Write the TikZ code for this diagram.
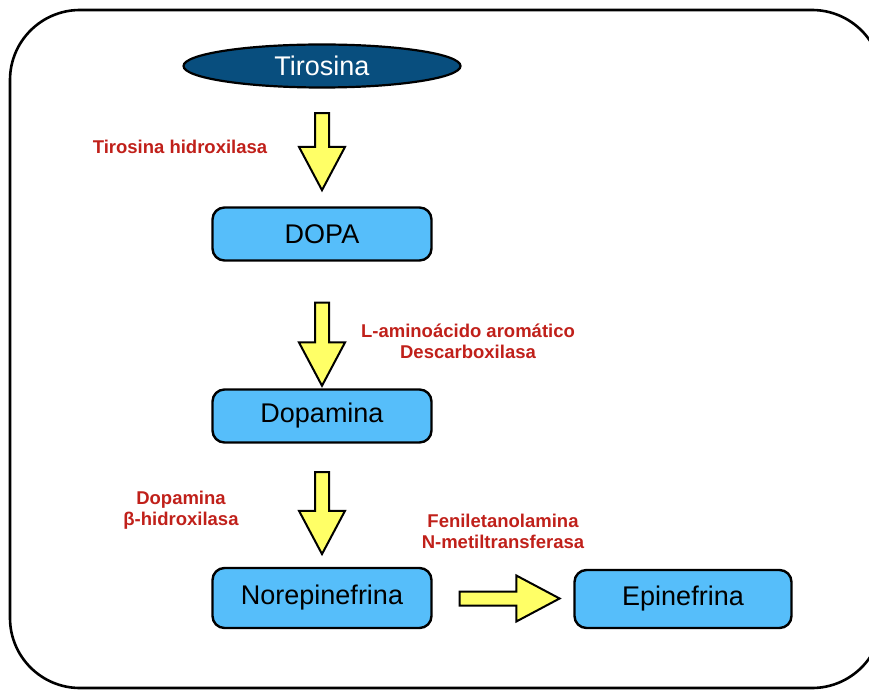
\documentclass[tikz,border=0pt]{standalone}
\usepackage{fontspec}
\setmainfont{Liberation Sans}
\usetikzlibrary{shapes.geometric,shapes.arrows,calc}

\definecolor{boxblue}{RGB}{86,190,250}
\definecolor{darkblue}{RGB}{8,78,126}
\definecolor{arrowyellow}{RGB}{255,255,102}
\definecolor{enzred}{RGB}{192,32,26}

\tikzset{
  compound/.style={draw=black, line width=2.4pt, fill=boxblue, rounded corners=12pt,
    minimum width=219pt, minimum height=53pt, font=\fontsize{27}{30}\selectfont},
  enzyme/.style={text=enzred, font=\fontsize{18.5}{21}\selectfont\bfseries, align=center},
  bigarrow/.style={single arrow, draw=black, line width=2pt, fill=arrowyellow,
    inner sep=6pt, minimum height=80pt, minimum width=46pt,
    single arrow head extend=16pt, single arrow tip angle=56}
}

\begin{document}
\begin{tikzpicture}[x=1pt,y=-1pt]
\useasboundingbox (0,0) rectangle (869,692);
\clip (0,0) rectangle (869,692);
% outer frame
\draw[line width=2.6pt, rounded corners=70pt] (10,10) rectangle (882,688);

% compounds
\node[ellipse, draw=black, line width=2.2pt, fill=darkblue, text=white,
  minimum width=277pt, minimum height=43pt, font=\fontsize{27}{30}\selectfont] (tir) at (322,66) {Tirosina};
\node[compound] (dopa) at (322,234) {DOPA};
\node[compound] (dopam) at (322,416) {Dopamina};
\node[compound, minimum height=60pt] (norepi) at (322,598) {Norepinefrina};
\node[compound, minimum width=217pt, minimum height=58pt] (epi) at (683,599) {Epinefrina};

% block arrows
\node[bigarrow, shape border rotate=270, minimum height=77pt] (a1) at ($(tir.south)!0.48!(dopa.north)$) {};
\node[bigarrow, shape border rotate=270, minimum height=83pt] (a2) at ($(dopa.south)!0.6!(dopam.north)$) {};
\node[bigarrow, shape border rotate=270, minimum height=82pt] (a3) at ($(dopam.south)!0.51!(norepi.north)$) {};
\node[bigarrow, minimum height=100pt, minimum width=42pt] (a4) at ($(norepi.east)!0.5!(epi.west)$) {};

% enzymes
\node[enzyme] (e1) at (180,147) {Tirosina hidroxilasa};
\node[enzyme] (e2) at (468,341) {L-aminoácido aromático\\Descarboxilasa};
\node[enzyme] (e3) at (181,510) {Dopamina\\β-hidroxilasa};
\node[enzyme] (e4) at (503,531) {Feniletanolamina\\N-metiltransferasa};
\end{tikzpicture}
\end{document}
